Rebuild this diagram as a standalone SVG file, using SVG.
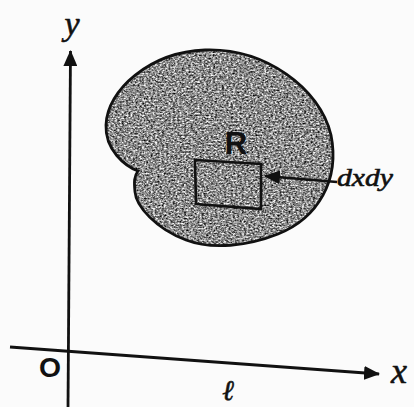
<svg xmlns="http://www.w3.org/2000/svg" width="414" height="407" viewBox="0 0 414 407">
<style>
.ax{stroke:#111;stroke-width:2.8;fill:none}
.it{font-family:"Liberation Serif","DejaVu Serif",serif;font-style:italic;fill:#111;stroke:#111;stroke-width:0.6}
.sb{font-family:"Liberation Sans","DejaVu Sans",sans-serif;font-weight:bold;fill:#111}
</style>
<defs>
<marker id="ah2" markerWidth="16" markerHeight="14" refX="15" refY="7" orient="auto" markerUnits="userSpaceOnUse" viewBox="0 0 16 14">
<path d="M0,0 L16,7 L0,14 Z" fill="#111"/>
</marker>
<filter id="noise" x="0" y="0" width="100%" height="100%" color-interpolation-filters="sRGB">
<feTurbulence type="fractalNoise" baseFrequency="0.45 0.6" numOctaves="3" seed="5" result="t"/>
<feColorMatrix in="t" type="matrix" values="1.5 0 0 0 -0.2  1.5 0 0 0 -0.2  1.5 0 0 0 -0.2  0 0 0 0 1"/>
</filter>
<clipPath id="blobclip"><path d="M138,171 C125,166 105,150 106,125 C107,90 150,52 205,50 C265,48 320,88 331,135 C340,180 318,218 278,234 C248,246 212,250 186,240 C156,229 136,206 135,192 C134,182 134,176 138,171 Z"/></clipPath>
</defs>
<rect width="414" height="407" fill="#fbfbfb"/>
<g id="region">
<path d="M138,171 C125,166 105,150 106,125 C107,90 150,52 205,50 C265,48 320,88 331,135 C340,180 318,218 278,234 C248,246 212,250 186,240 C156,229 136,206 135,192 C134,182 134,176 138,171 Z" fill="#8a8a8a"/>
<rect x="100" y="45" width="240" height="210" fill="#000" filter="url(#noise)" clip-path="url(#blobclip)"/>
<path d="M138,171 C125,166 105,150 106,125 C107,90 150,52 205,50 C265,48 320,88 331,135 C340,180 318,218 278,234 C248,246 212,250 186,240 C156,229 136,206 135,192 C134,182 134,176 138,171 Z" fill="none" stroke="#111" stroke-width="2.8"/>
<text class="sb" x="236" y="154" font-size="31" text-anchor="middle">R</text>
</g>
<g id="element">
<polygon points="195,160 261,164 261,209 196,204" fill="none" stroke="#111" stroke-width="2.6"/>
<text class="it" x="337" y="186" font-size="25" textLength="56" lengthAdjust="spacingAndGlyphs">dxdy</text>
</g>
<g id="axes">
<line class="ax" x1="68" y1="407" x2="70.5" y2="51" marker-end="url(#ah2)"/>
<line class="ax" x1="10" y1="347" x2="379" y2="374" marker-end="url(#ah2)"/>
<text class="it" x="72" y="35" font-size="34" text-anchor="middle">y</text>
<text class="it" x="399" y="383" font-size="36" text-anchor="middle">x</text>
<text class="sb" x="39" y="377" font-size="27" textLength="22" lengthAdjust="spacingAndGlyphs">O</text>
<text class="it" x="228" y="400" font-size="28" text-anchor="middle">ℓ</text>
</g>
<g id="connectors">
<line x1="337" y1="182" x2="265" y2="176" stroke="#111" stroke-width="2.6" marker-end="url(#ah2)"/>
</g>
</svg>
